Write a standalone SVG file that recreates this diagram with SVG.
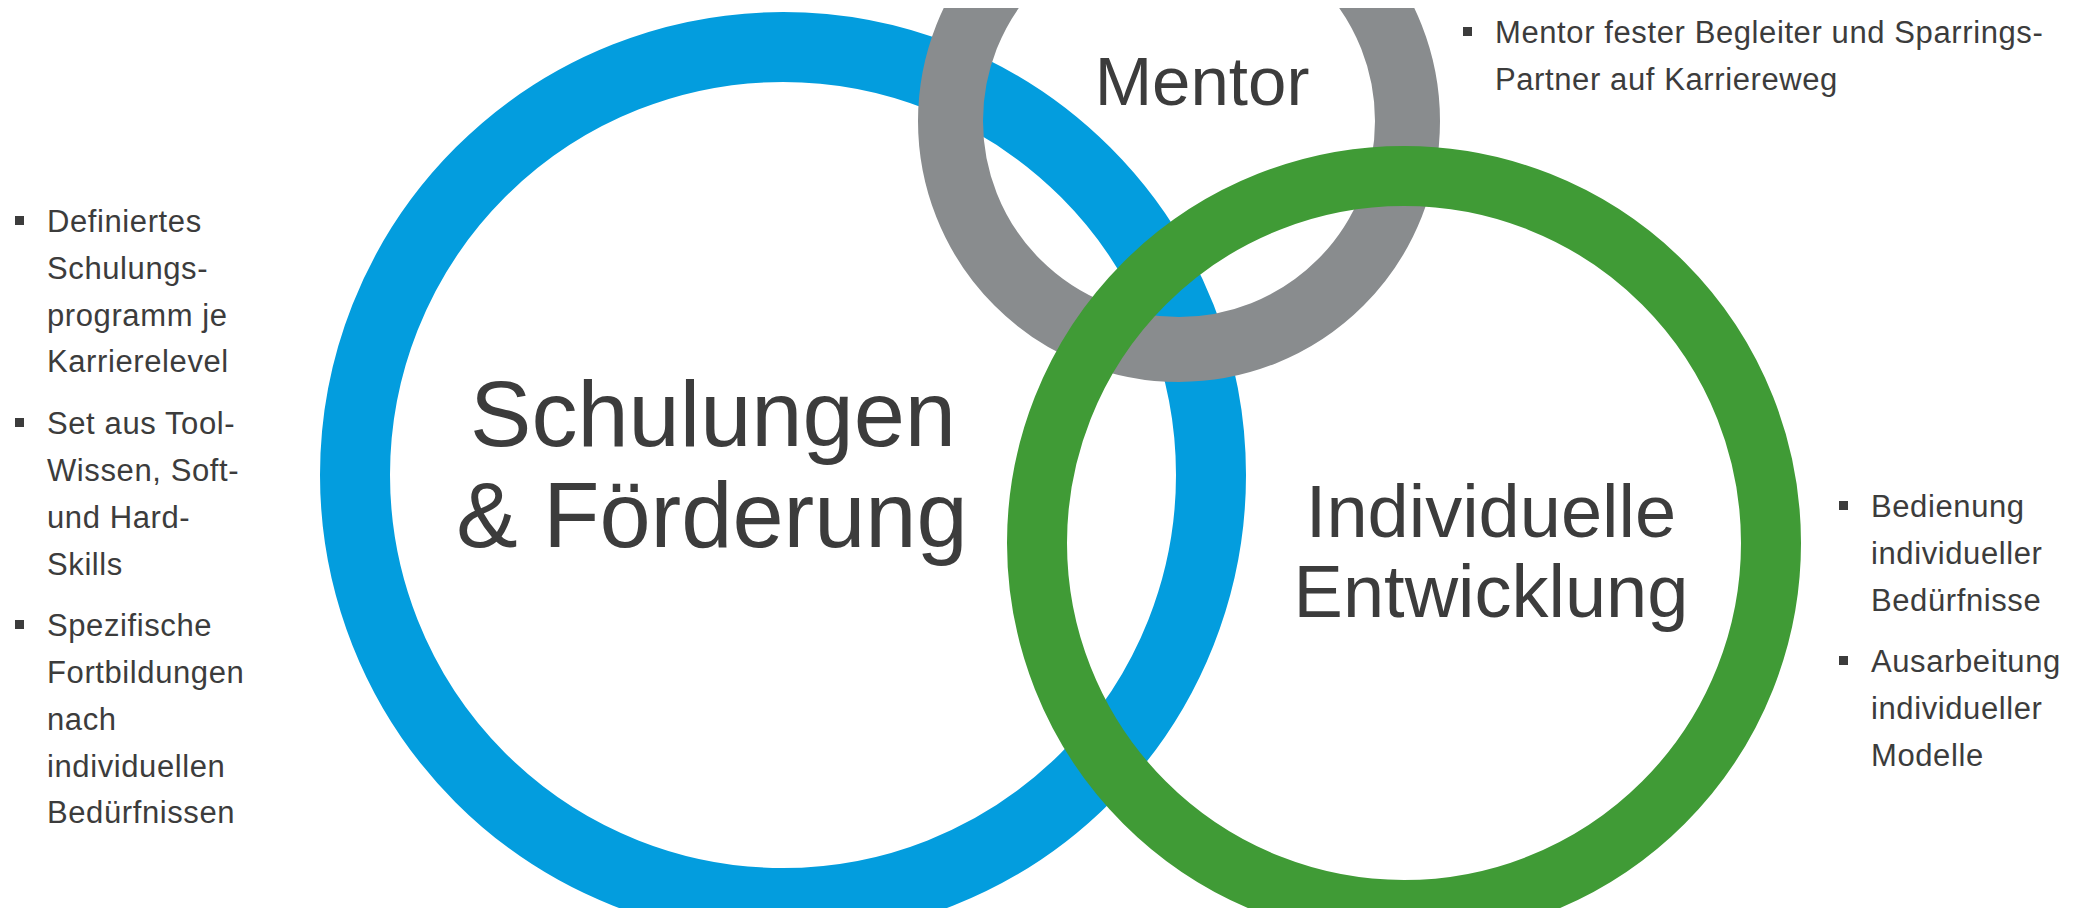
<svg xmlns="http://www.w3.org/2000/svg" width="2087" height="908" viewBox="0 0 2087 908">
<defs>
<style>
.ring{fill:none}
.big{font-family:"Liberation Sans",Arial,sans-serif;fill:#3c3c3c;text-anchor:middle}
.bul{font-family:"Liberation Sans",Arial,sans-serif;fill:#3c3c3c;font-size:31px;letter-spacing:0.6px}
.sq{fill:#3c3c3c}
</style>
<clipPath id="topclip"><rect x="0" y="8" width="2087" height="900"/></clipPath>
</defs>
<rect width="2087" height="908" fill="#ffffff"/>
<g id="node-schulungen">
<circle class="ring" cx="783" cy="475" r="428" stroke="#039dde" stroke-width="70"/>
<text class="big" font-size="92" x="713" y="446">Schulungen</text>
<text class="big" font-size="92" x="712" y="547">&amp; Förderung</text>
</g>
<g id="node-mentor" clip-path="url(#topclip)">
<circle class="ring" cx="1179" cy="121" r="228.5" stroke="#898c8e" stroke-width="65"/>
<text class="big" font-size="69" x="1202" y="105">Mentor</text>
</g>
<g id="node-entwicklung">
<circle class="ring" cx="1404" cy="543" r="367" stroke="#409b36" stroke-width="60"/>
<text class="big" font-size="74" x="1491" y="537">Individuelle</text>
<text class="big" font-size="74" x="1491" y="617">Entwicklung</text>
</g>
<g id="connectors"></g>
<g id="notes-left">
<rect class="sq" x="15" y="216" width="9" height="9"/>
<text class="bul" x="47" y="232">Definiertes</text>
<text class="bul" x="47" y="279">Schulungs-</text>
<text class="bul" x="47" y="326">programm je</text>
<text class="bul" x="47" y="372">Karrierelevel</text>
<rect class="sq" x="15" y="418" width="9" height="9"/>
<text class="bul" x="47" y="434">Set aus Tool-</text>
<text class="bul" x="47" y="481">Wissen, Soft-</text>
<text class="bul" x="47" y="528">und Hard-</text>
<text class="bul" x="47" y="575">Skills</text>
<rect class="sq" x="15" y="620" width="9" height="9"/>
<text class="bul" x="47" y="636">Spezifische</text>
<text class="bul" x="47" y="683">Fortbildungen</text>
<text class="bul" x="47" y="730">nach</text>
<text class="bul" x="47" y="777">individuellen</text>
<text class="bul" x="47" y="823">Bedürfnissen</text>
</g>
<g id="notes-mentor">
<rect class="sq" x="1463" y="27" width="9" height="9"/>
<text class="bul" x="1495" y="43">Mentor fester Begleiter und Sparrings-</text>
<text class="bul" x="1495" y="90">Partner auf Karriereweg</text>
</g>
<g id="notes-right">
<rect class="sq" x="1839" y="501" width="9" height="9"/>
<text class="bul" x="1871" y="517">Bedienung</text>
<text class="bul" x="1871" y="564">individueller</text>
<text class="bul" x="1871" y="611">Bedürfnisse</text>
<rect class="sq" x="1839" y="656" width="9" height="9"/>
<text class="bul" x="1871" y="672">Ausarbeitung</text>
<text class="bul" x="1871" y="719">individueller</text>
<text class="bul" x="1871" y="766">Modelle</text>
</g>
</svg>
